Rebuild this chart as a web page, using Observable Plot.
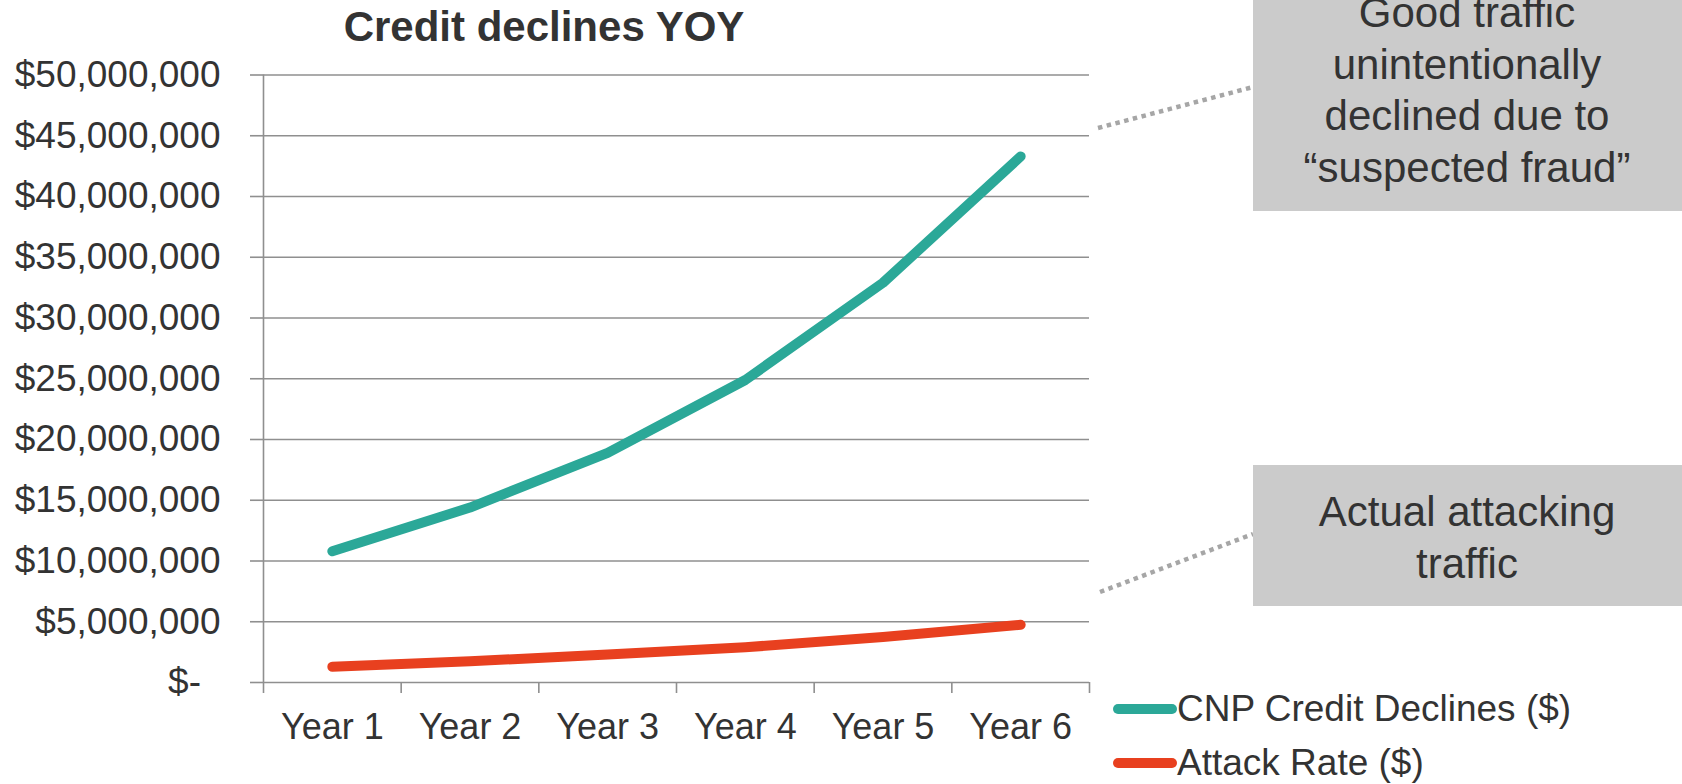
<!DOCTYPE html>
<html>
<head>
<meta charset="utf-8">
<script src="https://cdn.jsdelivr.net/npm/d3@7"></script>
<script src="https://cdn.jsdelivr.net/npm/@observablehq/plot@0.6"></script>
<style>
  html, body { margin: 0; padding: 0; background: #fff; }
  #wrap { position: relative; width: 1682px; height: 784px; overflow: hidden; font-family: "Liberation Sans", Arial, sans-serif; color: #333; }
  #title { position: absolute; top: 2px; left: 0; width: 1088px; line-height: 50px; text-align: center; font-weight: bold; font-size: 42px; color: #333; }
  #chart { position: absolute; top: 50px; left: 0; }
  #overlay { position: absolute; top: 0; left: 0; pointer-events: none; }
</style>
</head>
<body>
<div id="wrap">
  <div id="title"></div>
  <div id="chart"></div>
  <svg id="overlay" width="1682" height="784"></svg>
</div>
<script>
// ---- data ----
const titleText = "Credit declines YOY";
const years = ["Year 1", "Year 2", "Year 3", "Year 4", "Year 5", "Year 6"];
const seriesNames = ["CNP Credit Declines ($)", "Attack Rate ($)"];
const cnpDeclines = [10.8e6, 14.4e6, 18.9e6, 24.9e6, 32.9e6, 43.3e6];
const attackRate = [1.3e6, 1.75e6, 2.3e6, 2.9e6, 3.75e6, 4.75e6];
const seriesColors = ["#2ba898", "#e8401f"];
const yTicks = [0, 5e6, 10e6, 15e6, 20e6, 25e6, 30e6, 35e6, 40e6, 45e6, 50e6];
const annotationTop = ["Good traffic", "unintentionally", "declined due to", "\u201Csuspected fraud\u201D"];
const annotationBottom = ["Actual attacking", "traffic"];

// ---- table built from arrays ----
const rows = [];
[cnpDeclines, attackRate].forEach((vals, s) => {
  vals.forEach((v, i) => rows.push({series: seriesNames[s], idx: i + 1, year: years[i], value: v}));
});
const centers = years.map((_, i) => i + 1);
const boundaries = d3.range(0, years.length + 1).map(i => i + 0.5);

const gridColor = "#8f8f8f";
const textColor = "#333333";
const fmt = d3.format(",");

document.getElementById("title").textContent = titleText;

const chart = Plot.plot({
  width: 1682,
  height: 734,
  marginTop: 24.5,
  marginBottom: 102,
  marginLeft: 263,
  marginRight: 593,
  style: {fontFamily: "'Liberation Sans', Arial, sans-serif", fontSize: "37px", color: textColor, background: "transparent"},
  x: {type: "linear", domain: [0.5, years.length + 0.5]},
  y: {domain: [0, 50e6]},
  color: {domain: seriesNames, range: seriesColors},
  marks: [
    Plot.gridY(yTicks, {stroke: gridColor, strokeOpacity: 1, strokeWidth: 1.6}),
    Plot.ruleX([boundaries[0]], {stroke: gridColor, strokeWidth: 1.6}),
    Plot.axisY(yTicks.filter(d => d !== 0), {
      tickSize: 13, tickPadding: 30, stroke: gridColor, strokeWidth: 1.6,
      tickFormat: d => "$" + fmt(d), fontSize: 37, fill: textColor, label: null
    }),
    Plot.axisY(yTicks.filter(d => d === 0), {
      tickSize: 13, tickPadding: 49.5, stroke: gridColor, strokeWidth: 1.6,
      tickFormat: () => "$-", fontSize: 37, fill: textColor, label: null
    }),
    Plot.axisX(boundaries, {tickSize: 11, stroke: gridColor, strokeWidth: 1.6, tickFormat: () => "", label: null}),
    Plot.axisX(centers, {tickSize: 0, tickPadding: 31, tickFormat: i => years[i - 1], fontSize: 36, fill: textColor, label: null}),
    Plot.line(rows, {
      x: "idx", y: "value", z: "series", stroke: "series",
      strokeWidth: 10, strokeLinecap: "round", strokeLinejoin: "round"
    })
  ]
});
document.getElementById("chart").appendChild(chart);

// ---- overlay: annotations + legend ----
const ov = d3.select("#overlay");
const ff = "'Liberation Sans', Arial, sans-serif";
const connColor = "#a6a6a6";
const boxFill = "#cbcbcb";

// connectors
ov.append("line").attr("x1", 1098).attr("y1", 128).attr("x2", 1253).attr("y2", 87)
  .attr("stroke", connColor).attr("stroke-width", 4.5).attr("stroke-dasharray", "4.5 4.5");
ov.append("line").attr("x1", 1100).attr("y1", 592).attr("x2", 1253).attr("y2", 534)
  .attr("stroke", connColor).attr("stroke-width", 4.5).attr("stroke-dasharray", "4.5 4.5");

// boxes
ov.append("rect").attr("x", 1253).attr("y", -40).attr("width", 500).attr("height", 251).attr("fill", boxFill);
ov.append("rect").attr("x", 1253).attr("y", 465).attr("width", 500).attr("height", 141).attr("fill", boxFill);

annotationTop.forEach((t, i) => {
  ov.append("text").attr("x", 1467).attr("y", 27 + i * 51.6)
    .attr("text-anchor", "middle").attr("font-family", ff).attr("font-size", 42).attr("fill", textColor).text(t);
});
annotationBottom.forEach((t, i) => {
  ov.append("text").attr("x", 1467).attr("y", 526 + i * 51.6)
    .attr("text-anchor", "middle").attr("font-family", ff).attr("font-size", 42).attr("fill", textColor).text(t);
});

// legend
seriesNames.forEach((name, i) => {
  const cy = 709 + i * 54;
  ov.append("line").attr("x1", 1118).attr("x2", 1172).attr("y1", cy).attr("y2", cy)
    .attr("stroke", seriesColors[i]).attr("stroke-width", 10).attr("stroke-linecap", "round");
  ov.append("text").attr("x", 1177).attr("y", cy + 11.5)
    .attr("font-family", ff).attr("font-size", 37).attr("fill", textColor).text(name);
});
</script>
</body>
</html>
